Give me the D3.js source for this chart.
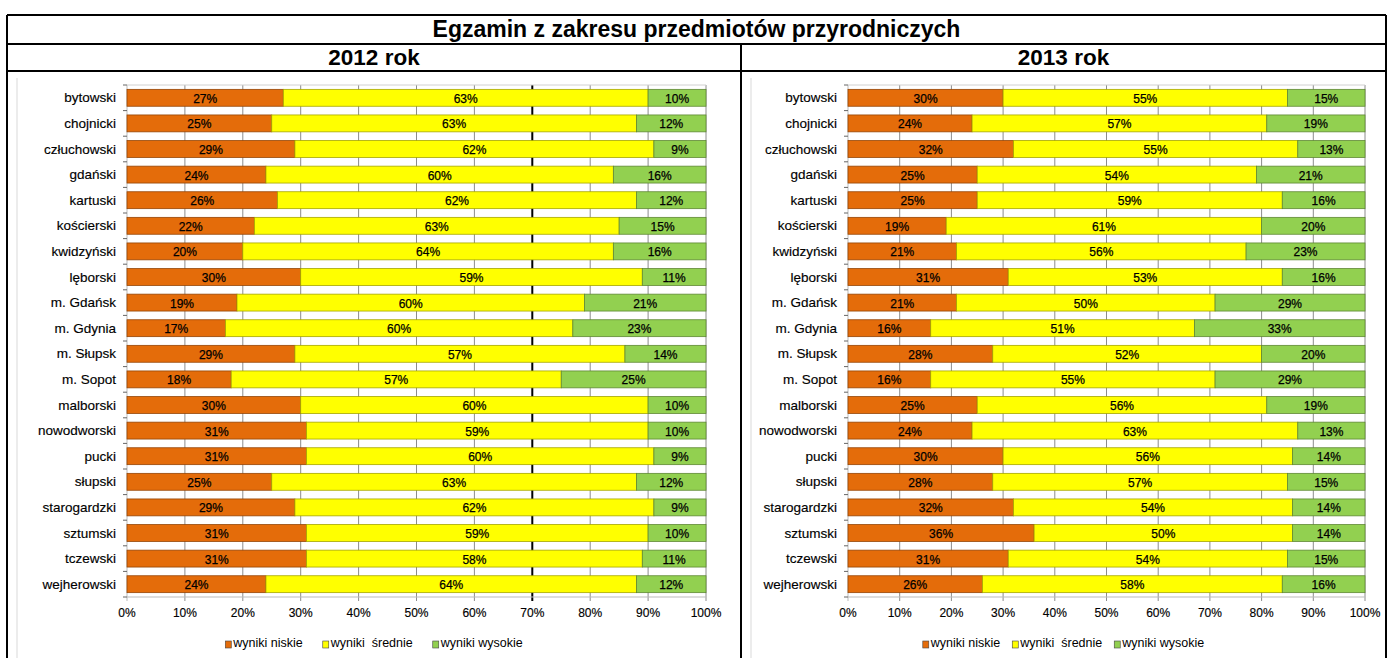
<!DOCTYPE html>
<html lang="pl">
<head>
<meta charset="utf-8">
<title>Egzamin z zakresu przedmiotów przyrodniczych</title>
<script src="https://cdn.jsdelivr.net/npm/d3@7"></script>
<style>
  body { margin: 0; background: #fff; }
  svg { display: block; font-family: "Liberation Sans", Arial, sans-serif; }
</style>
</head>
<body>
<svg id="chart" width="1388" height="658"></svg>
<script>
const districts = [
  "bytowski", "chojnicki", "człuchowski", "gdański", "kartuski",
  "kościerski", "kwidzyński", "lęborski", "m. Gdańsk", "m. Gdynia",
  "m. Słupsk", "m. Sopot", "malborski", "nowodworski", "pucki",
  "słupski", "starogardzki", "sztumski", "tczewski", "wejherowski"
];

// 2012 rok
const low2012  = [27, 25, 29, 24, 26, 22, 20, 30, 19, 17, 29, 18, 30, 31, 31, 25, 29, 31, 31, 24];
const mid2012  = [63, 63, 62, 60, 62, 63, 64, 59, 60, 60, 57, 57, 60, 59, 60, 63, 62, 59, 58, 64];
const high2012 = [10, 12, 9, 16, 12, 15, 16, 11, 21, 23, 14, 25, 10, 10, 9, 12, 9, 10, 11, 12];

// 2013 rok
const low2013  = [30, 24, 32, 25, 25, 19, 21, 31, 21, 16, 28, 16, 25, 24, 30, 28, 32, 36, 31, 26];
const mid2013  = [55, 57, 55, 54, 59, 61, 56, 53, 50, 51, 52, 55, 56, 63, 56, 57, 54, 50, 54, 58];
const high2013 = [15, 19, 13, 21, 16, 20, 23, 16, 29, 33, 20, 29, 19, 13, 14, 15, 14, 14, 15, 16];

const seriesKeys = ["low", "mid", "high"];
const seriesNames = ["wyniki niskie", "wyniki  średnie", "wyniki wysokie"];
const seriesColors = ["#e46c0a", "#ffff00", "#92d050"];
const xTicks = [0, 10, 20, 30, 40, 50, 60, 70, 80, 90, 100];

const mainTitle = "Egzamin z zakresu przedmiotów przyrodniczych";

const width = 1388;
const height = 658;
const svg = d3.select("#chart");

// ramka tabeli
const frame = { l: 7, r: 1386, t: 15, row1: 44, row2: 71, mid: 741 };
const lineStyle = (sel) => sel.attr("stroke", "#000").attr("stroke-width", 2);

svg.append("line").attr("x1", frame.l).attr("x2", frame.r).attr("y1", frame.t).attr("y2", frame.t).call(lineStyle);
svg.append("line").attr("x1", frame.l).attr("x2", frame.r).attr("y1", frame.row1).attr("y2", frame.row1).call(lineStyle);
svg.append("line").attr("x1", frame.l).attr("x2", frame.r).attr("y1", frame.row2).attr("y2", frame.row2).call(lineStyle);
svg.append("line").attr("x1", frame.l).attr("x2", frame.l).attr("y1", frame.t).attr("y2", height).call(lineStyle);
svg.append("line").attr("x1", frame.r).attr("x2", frame.r).attr("y1", frame.t).attr("y2", height).call(lineStyle);
svg.append("line").attr("x1", frame.mid).attr("x2", frame.mid).attr("y1", frame.row1).attr("y2", height).call(lineStyle);

svg.append("text")
  .text(mainTitle)
  .attr("x", (frame.l + frame.r) / 2)
  .attr("y", 37)
  .attr("text-anchor", "middle")
  .attr("font-weight", "bold")
  .attr("font-size", 23);

function renderPanel(opts) {
  const { title, cellL, cellR, plotL, plotR, low, mid, high, darkTick, legendGap } = opts;
  const plotT = 85;
  const plotB = 597;

  const rows = districts.map((name, i) => ({ name, low: low[i], mid: mid[i], high: high[i] }));
  const stacked = d3.stack().keys(seriesKeys).offset(d3.stackOffsetExpand)(rows);

  const xScale = d3.scaleLinear().domain([0, 1]).range([plotL, plotR]);
  const yScale = d3.scaleBand()
    .domain(districts)
    .range([plotT, plotB])
    .paddingInner(0.34)
    .paddingOuter(0.17);

  svg.append("text")
    .text(title)
    .attr("x", (cellL + cellR) / 2)
    .attr("y", 65)
    .attr("text-anchor", "middle")
    .attr("font-weight", "bold")
    .attr("font-size", 22.5);

  // szara ramka obszaru wykresu
  svg.append("line")
    .attr("x1", cellL + 10).attr("x2", cellL + 10)
    .attr("y1", 78).attr("y2", height)
    .attr("stroke", "#d9d9d9");

  const g = svg.append("g");

  // linie siatki
  g.selectAll(".grid")
    .data(xTicks)
    .join("line")
    .attr("class", "grid")
    .attr("x1", (d) => xScale(d / 100))
    .attr("x2", (d) => xScale(d / 100))
    .attr("y1", plotT)
    .attr("y2", plotB + 4)
    .attr("stroke", (d) => (d === darkTick ? "#000" : d === 0 ? "#bbb" : "#8c8c8c"))
    .attr("stroke-width", (d) => (d === darkTick ? 2 : 1));

  g.append("line")
    .attr("x1", plotL).attr("x2", plotR)
    .attr("y1", plotT).attr("y2", plotT)
    .attr("stroke", "#d0d0d0");
  g.append("line")
    .attr("x1", plotL).attr("x2", plotR)
    .attr("y1", plotB).attr("y2", plotB)
    .attr("stroke", "#bbb");

  // znaczniki osi Y
  const step = yScale.step();
  g.selectAll(".ytick")
    .data(d3.range(districts.length + 1))
    .join("line")
    .attr("class", "ytick")
    .attr("x1", plotL - 4).attr("x2", plotL)
    .attr("y1", (i) => plotT + i * step)
    .attr("y2", (i) => plotT + i * step)
    .attr("stroke", "#666");

  // słupki
  stacked.forEach((series, si) => {
    const color = seriesColors[si];
    const layer = g.append("g");
    layer.selectAll("rect")
      .data(series)
      .join("rect")
      .attr("x", (d) => xScale(d[0]))
      .attr("width", (d) => xScale(d[1]) - xScale(d[0]))
      .attr("y", (d) => yScale(d.data.name))
      .attr("height", yScale.bandwidth())
      .attr("fill", color)
      .attr("stroke", d3.color(color).darker(1.2))
      .attr("stroke-width", 0.8);

    layer.selectAll("text")
      .data(series)
      .join("text")
      .text((d) => `${d.data[seriesKeys[si]]}%`)
      .attr("x", (d) => (xScale(d[0]) + xScale(d[1])) / 2)
      .attr("y", (d) => yScale(d.data.name) + yScale.bandwidth() / 2 + 1)
      .attr("text-anchor", "middle")
      .attr("dominant-baseline", "central")
      .attr("font-size", 12)
      .attr("fill", "#000")
      .attr("stroke", "#000")
      .attr("stroke-width", 0.25);
  });

  // etykiety kategorii
  g.selectAll(".ylabel")
    .data(districts)
    .join("text")
    .attr("class", "ylabel")
    .text((d) => d)
    .attr("x", plotL - 11)
    .attr("y", (d) => yScale(d) + yScale.bandwidth() / 2)
    .attr("text-anchor", "end")
    .attr("dominant-baseline", "central")
    .attr("font-size", 13.5)
    .attr("fill", "#000")
    .attr("stroke", "#000")
    .attr("stroke-width", 0.15);

  // etykiety osi X
  g.selectAll(".xlabel")
    .data(xTicks)
    .join("text")
    .attr("class", "xlabel")
    .text((d) => `${d}%`)
    .attr("x", (d) => xScale(d / 100))
    .attr("y", 617)
    .attr("text-anchor", "middle")
    .attr("font-size", 12)
    .attr("stroke", "#000")
    .attr("stroke-width", 0.15);

  // legenda
  const legend = svg.append("g");
  const items = seriesNames.map((name, i) => {
    const item = legend.append("g");
    item.append("rect")
      .attr("width", 6).attr("height", 7)
      .attr("y", -6)
      .attr("fill", seriesColors[i])
      .attr("stroke", "#444")
      .attr("stroke-width", 0.6);
    const t = item.append("text")
      .text(name)
      .attr("x", 8)
      .attr("font-size", 12.5)
      .style("white-space", "pre");
    return { item, w: 8 + t.node().getComputedTextLength() };
  });
  const total = d3.sum(items, (d) => d.w) + legendGap * (items.length - 1);
  let x = (cellL + cellR) / 2 - total / 2;
  items.forEach((d) => {
    d.item.attr("transform", `translate(${x}, 647)`);
    x += d.w + legendGap;
  });
}

renderPanel({
  title: "2012 rok",
  cellL: frame.l, cellR: frame.mid,
  plotL: 127, plotR: 706,
  low: low2012, mid: mid2012, high: high2012,
  darkTick: 70,
  legendGap: 20
});

renderPanel({
  title: "2013 rok",
  cellL: frame.mid, cellR: frame.r,
  plotL: 848, plotR: 1365,
  low: low2013, mid: mid2013, high: high2013,
  darkTick: null,
  legendGap: 12
});
</script>
</body>
</html>
